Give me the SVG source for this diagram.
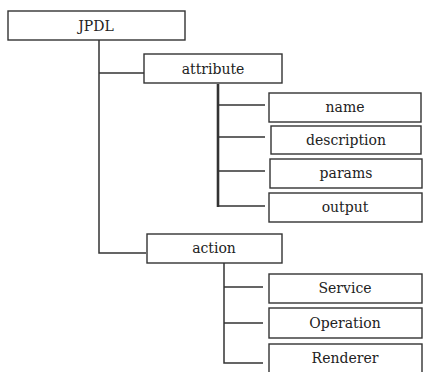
<svg xmlns="http://www.w3.org/2000/svg" width="425" height="372" viewBox="0 0 425 372">
<style>
.box{fill:#fff;stroke:#333;stroke-width:1.4}
.t{font-family:'DejaVu Serif',serif;font-size:14px;fill:#222;text-anchor:middle}
#connectors path{fill:none;stroke:#333;stroke-width:1.5}
</style>
<rect width="425" height="372" fill="#fff"/>
<g id="connectors">
<path d="M99 40V253H146M99 73H144"/>
<path d="M218 84V207" style="stroke-width:2.6"/>
<path d="M218 105H265M218 137H265M218 171H265M218 206H265"/>
<path d="M224 263V363H263M224 287H263M224 323H263"/>
</g>
<g id="jpdl"><rect class="box" x="8" y="11" width="177" height="29"/><text class="t" x="96" y="31" font-size="15">JPDL</text></g>
<g id="attribute"><rect class="box" x="144" y="54" width="138" height="29"/><text class="t" x="213" y="74">attribute</text></g>
<g id="name"><rect class="box" x="269" y="93" width="152" height="29"/><text class="t" x="345" y="112">name</text></g>
<g id="description"><rect class="box" x="271" y="126" width="150" height="28"/><text class="t" x="346" y="145">description</text></g>
<g id="params"><rect class="box" x="270" y="159" width="152" height="29"/><text class="t" x="346" y="178">params</text></g>
<g id="output"><rect class="box" x="269" y="193" width="153" height="29"/><text class="t" x="345" y="212">output</text></g>
<g id="action"><rect class="box" x="147" y="234" width="135" height="29"/><text class="t" x="214" y="253">action</text></g>
<g id="service"><rect class="box" x="269" y="274" width="153" height="29"/><text class="t" x="345" y="293">Service</text></g>
<g id="operation"><rect class="box" x="269" y="308" width="153" height="30"/><text class="t" x="345" y="328">Operation</text></g>
<g id="renderer"><rect class="box" x="269" y="344" width="153" height="32"/><text class="t" x="345" y="363">Renderer</text></g>
</svg>
